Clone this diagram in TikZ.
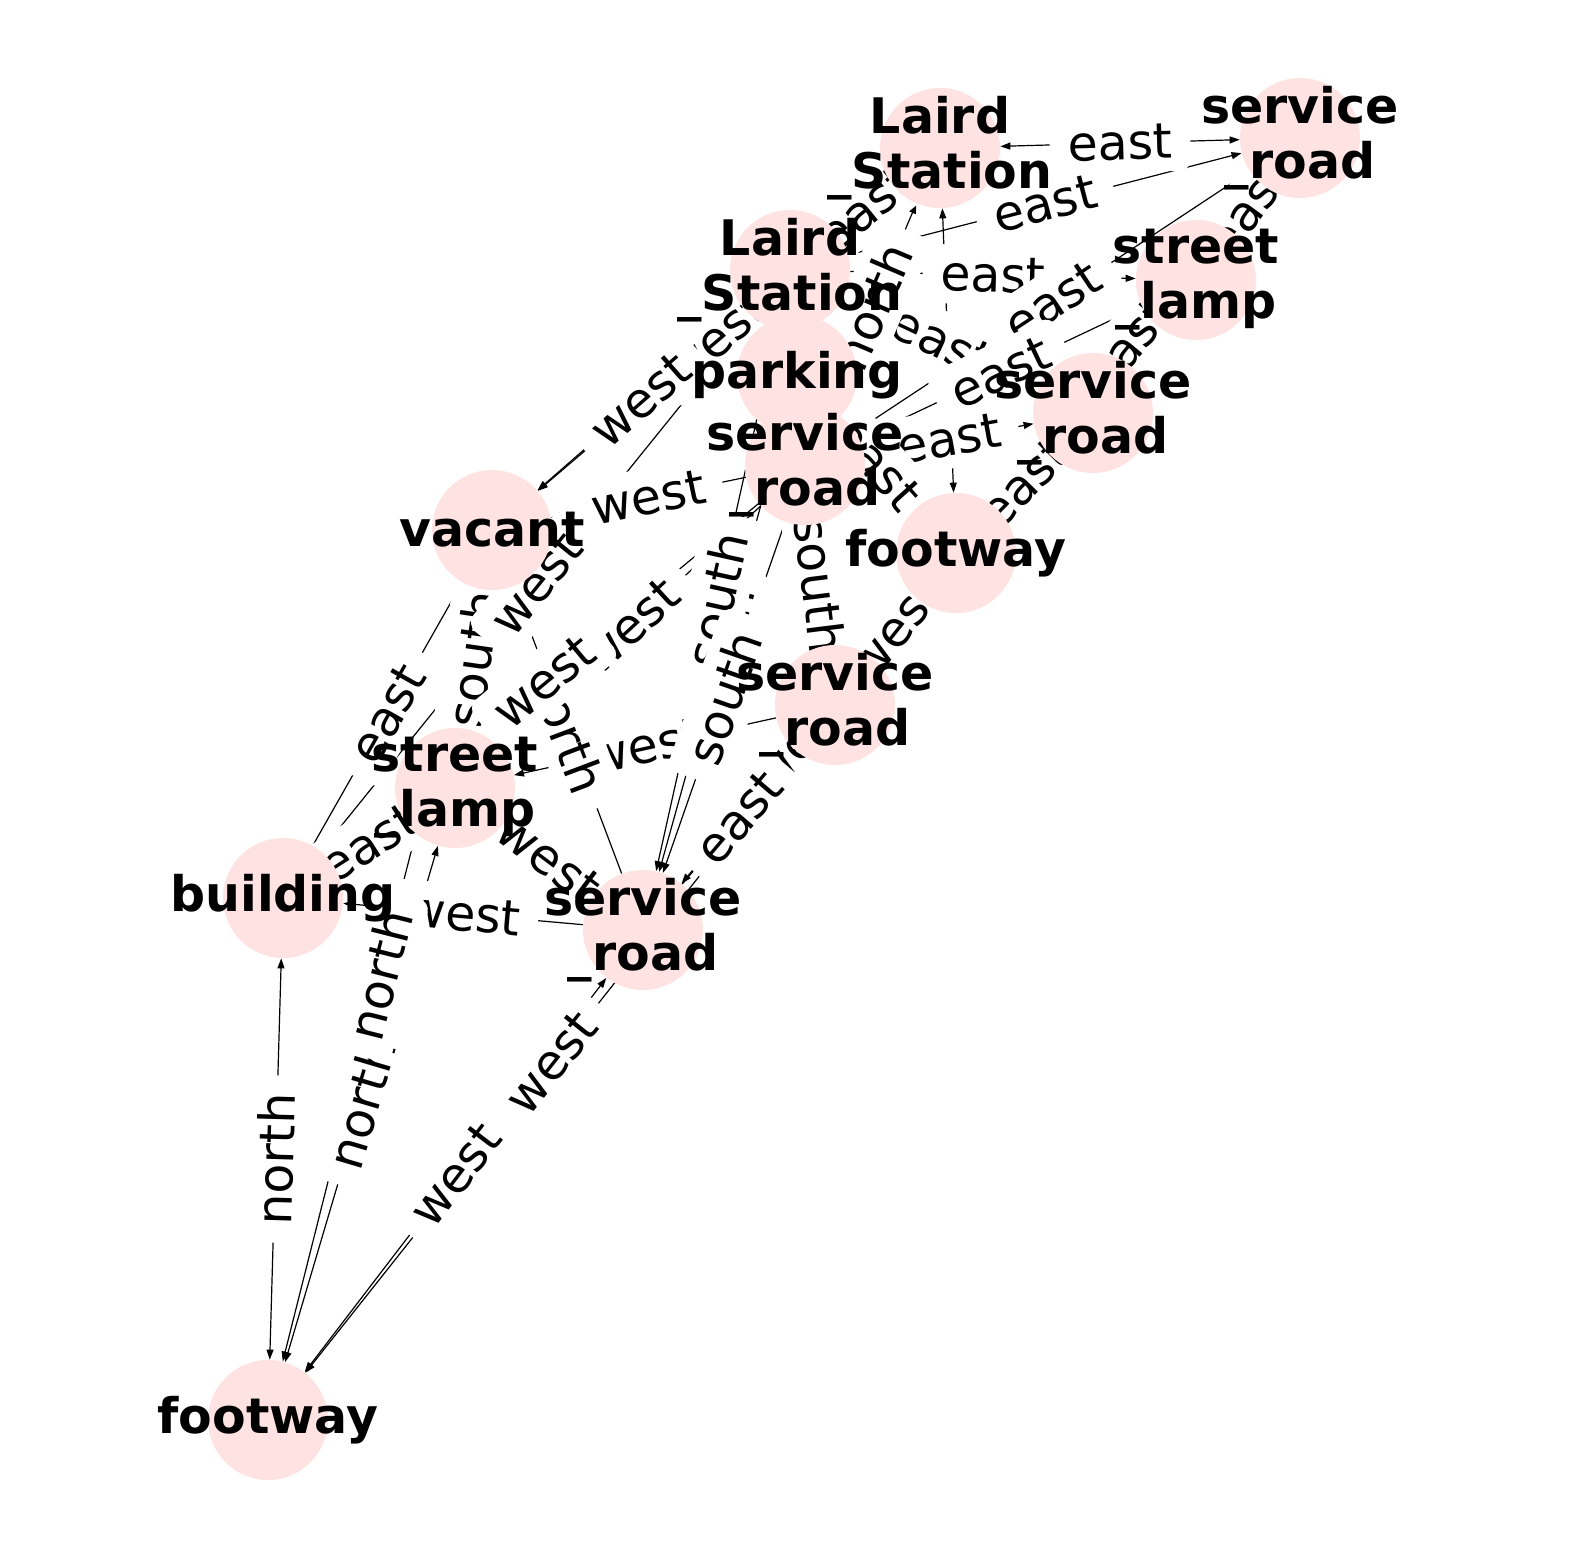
\documentclass[tikz,border=0pt]{standalone}
\usepackage{fontspec}
\setmainfont{DejaVu Sans}
\usetikzlibrary{arrows.meta}
\definecolor{nodepink}{RGB}{255,226,226}
\begin{document}
\begin{tikzpicture}[x=0.5pt,y=-0.5pt,
  vtx/.style={circle,fill=nodepink,minimum size=60pt,inner sep=0pt},
  vlabel/.style={font=\fontsize{24.5}{27.5}\selectfont\bfseries,align=center,inner sep=0pt},
  edge/.style={line width=0.6pt,-{Triangle[length=5pt,width=3.5pt]}},
  bidir/.style={line width=0.6pt,{Triangle[length=5pt,width=3.5pt]}-{Triangle[length=5pt,width=3.5pt]}},
  elabel/.style={sloped,midway,fill=white,font=\fontsize{24.5}{27.5}\selectfont,inner xsep=9pt,inner ysep=6pt,rounded corners=6pt}]
\useasboundingbox (0,0) rectangle (1570,1560);
% node anchors (circles, invisible first pass for edge clipping)
\path
  (940,148)  node[vtx,fill=none] (LS1) {}
  (1300,138) node[vtx,fill=none] (SR1) {}
  (1196,280) node[vtx,fill=none] (SL1) {}
  (790,270)  node[vtx,fill=none] (LS2) {}
  (797,375)  node[vtx,fill=none] (PK) {}
  (1093,413) node[vtx,fill=none] (SR2) {}
  (805,465)  node[vtx,fill=none] (SR3) {}
  (492,530)  node[vtx,fill=none] (VA) {}
  (956,553)  node[vtx,fill=none] (FW1) {}
  (835,705)  node[vtx,fill=none] (SR4) {}
  (455,788)  node[vtx,fill=none] (SL2) {}
  (283,898)  node[vtx,fill=none] (BU) {}
  (643,930)  node[vtx,fill=none] (SR5) {}
  (268,1420) node[vtx,fill=none] (FW2) {};
% edges
\draw[bidir] (LS1) -- (SR1);
\draw[edge] (LS2) -- (SR1);
\draw[edge] (LS2) -- (SL1);
\draw[edge] (SR3) -- (SR1);
\draw[edge] (SR3) -- (SR2);
\draw[edge] (LS2) -- (SR2);
\draw[edge] (SR3) -- (SL1);
\draw[edge] (LS2) -- (LS1);
\draw[edge] (SR3) -- (LS1);
\draw[edge] (PK) -- (FW1);
\draw[edge] (FW1) -- (SR2);
\draw[edge] (FW1) -- (SR1);
\draw[edge] (SL1) -- (SR1);
\draw[bidir] (LS1) -- (FW1);
\draw[edge] (LS2) -- (VA);
\draw[edge] (SR3) -- (VA);
\draw[edge] (LS1) -- (VA);
\draw[edge] (LS2) -- (BU);
\draw[edge] (SR3) -- (BU);
\draw[edge] (SR3) -- (SL2);
\draw[edge] (SR4) -- (SL2);
\draw[edge] (SR5) -- (VA);
\draw[edge] (PK) -- (SR5);
\draw[edge] (SR3) -- (SR5);
\draw[edge] (LS2) -- (SR5);
\draw[edge] (SR3) -- (SR4);
\draw[edge] (VA) -- (SL2);
\draw[edge] (BU) -- (VA);
\draw[edge] (BU) -- (SL2);
\draw[edge] (SR5) -- (SL2);
\draw[edge] (SR5) -- (BU);
\draw[edge] (SR5) -- (SR4);
\draw[edge] (FW1) -- (SR4);
\draw[edge] (FW1) -- (SR5);
\draw[bidir] (FW2) -- (BU);
\draw[bidir] (FW2) -- (SL2);
\draw[bidir] (FW2) -- (VA);
\draw[bidir] (SR5) -- (FW2);
\draw[edge] (SR4) -- (FW2);
% edge labels
\path (PK) -- node[elabel] {south} (SR5);
\path (LS1) -- node[elabel] {east} (SR1);
\path (LS2) -- node[elabel] {east} (SR1);
\path (LS2) -- node[elabel] {east} (SL1);
\path (SR3) -- node[elabel] {east} (SR1);
\path (LS2) -- node[elabel] {east} (SR2);
\path (SR3) -- node[elabel] {east} (SL1);
\path (SR3) -- node[elabel] {east} (SR2);
\path (LS2) -- node[elabel] {east} (LS1);
\path (SR3) -- node[elabel] {north} (LS1);
\path (PK) -- node[elabel] {east} (FW1);
\path (FW1) -- node[elabel] {east} (SR2);
\path (FW1) -- node[elabel] {east} (SR1);
\path (SL1) -- node[elabel] {east} (SR1);
\path (LS1) -- node[elabel] {west} (VA);
\path (LS2) -- node[elabel] {west} (VA);
\path (SR3) -- node[elabel] {west} (VA);
\path (VA) -- node[elabel] {south} (SL2);
\path (LS2) -- node[elabel] {west} (BU);
\path (SR3) -- node[elabel] {west} (SL2);
\path (LS2) -- node[elabel] {south} (SR5);
\path (SR4) -- node[elabel] {west} (SL2);
\path (SR5) -- node[elabel] {north} (VA);
\path (SR3) -- node[elabel] {west} (BU);
\path (SR3) -- node[elabel] {south} (SR5);
\path (SR3) -- node[elabel] {south} (SR4);
\path (BU) -- node[elabel] {east} (VA);
\path (BU) -- node[elabel] {east} (SL2);
\path (SR5) -- node[elabel] {west} (SL2);
\path (SR5) -- node[elabel] {west} (BU);
\path (FW1) -- node[elabel] {west} (SR5);
\path (SR5) -- node[elabel] {east} (SR4);
\path (FW1) -- node[elabel] {west} (SR4);
\path (FW2) -- node[elabel] {north} (BU);
\path (FW2) -- node[elabel] {north} (SL2);
\path (FW2) -- node[elabel] {north} (VA);
\path (SR5) -- node[elabel] {west} (FW2);
\path (SR4) -- node[elabel] {west} (FW2);
% node circles
\foreach \n in {LS1,SR1,SL1,LS2,PK,SR2,SR3,VA,FW1,SR4,SL2,BU,SR5,FW2}
  \fill[nodepink] (\n.center) circle[radius=60];
% node labels
\node[vlabel] (tLS1) at (LS1) {Laird\\\_Station};
\node[vlabel] (tSR1) at (SR1) {service\\\_road};
\node[vlabel] (tSL1) at (SL1) {street\\\_lamp};
\node[vlabel] (tLS2) at (LS2) {Laird\\\_Station};
\node[vlabel] (tPK) at (PK) {parking};
\node[vlabel] (tSR2) at (SR2) {service\\\_road};
\node[vlabel] (tSR3) at (SR3) {service\\\_road};
\node[vlabel] (tVA) at (VA) {vacant};
\node[vlabel] (tFW1) at (FW1) {footway};
\node[vlabel] (tSR4) at (SR4) {service\\\_road};
\node[vlabel] (tSL2) at (SL2) {street\\\_lamp};
\node[vlabel] (tBU) at (BU) {building};
\node[vlabel] (tSR5) at (SR5) {service\\\_road};
\node[vlabel] (tFW2) at (FW2) {footway};
\end{tikzpicture}
\end{document}
